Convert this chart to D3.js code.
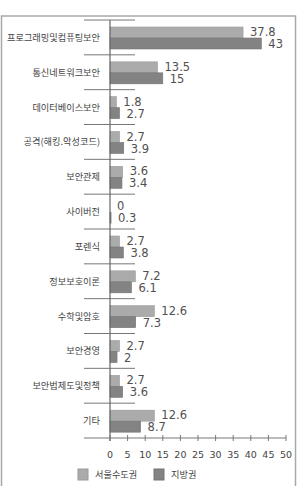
<!DOCTYPE html>
<html>
<head>
<meta charset="utf-8">
<script src="https://cdn.jsdelivr.net/npm/d3@7"></script>
<style>
  body { margin: 0; background: #fff; }
  svg { display: block; }
</style>
</head>
<body>
<svg id="chart" width="299" height="486"></svg>
<script>
// Values
const categories = ["프로그래밍및컴퓨팅보안", "통신네트워크보안", "데이터베이스보안", "공격(해킹.악성코드)",
  "보안관제", "사이버전", "포렌식", "정보보호이론", "수학및암호", "보안경영", "보안법제도및정책", "기타"];
const seoul = [37.8, 13.5, 1.8, 2.7, 3.6, 0, 2.7, 7.2, 12.6, 2.7, 2.7, 12.6];
const local = [43, 15, 2.7, 3.9, 3.4, 0.3, 3.8, 6.1, 7.3, 2, 3.6, 8.7];
const seriesNames = ["서울수도권", "지방권"];
const ticks = [0, 5, 10, 15, 20, 25, 30, 35, 40, 45, 50];

const colors = ["#ababab", "#838383"];
const strokes = ["#9a9a9a", "#747474"];

const svg = d3.select("#chart");

// outer frame
svg.append("rect")
  .attr("x", 1.5).attr("y", 16)
  .attr("width", 294).attr("height", 480)
  .attr("fill", "none").attr("stroke", "#a8a8a8").attr("stroke-width", 1.5);

const x = d3.scaleLinear().domain([0, 50]).range([110, 286]);
const y = d3.scaleBand().domain(categories).range([20, 438]);
const inner = d3.scaleBand().domain([0, 1]).range([7, 29]);

const rows = categories.map((c, i) => ({ name: c, values: [seoul[i], local[i]] }));

// separators between categories
svg.append("g").selectAll("line")
  .data(categories)
  .join("line")
  .attr("x1", 84).attr("x2", 135)
  .attr("y1", (d) => y(d)).attr("y2", (d) => y(d))
  .attr("stroke", "#777").attr("stroke-width", 1);

const row = svg.append("g").selectAll("g")
  .data(rows)
  .join("g")
  .attr("transform", (d) => `translate(0,${y(d.name)})`);

// category labels
row.append("text")
  .attr("x", 100)
  .attr("y", y.bandwidth() / 2 + 1)
  .attr("text-anchor", "end")
  .attr("dominant-baseline", "middle")
  .attr("font-family", "Noto Sans CJK KR")
  .attr("font-size", 9.2)
  .attr("fill", "#444")
  .text((d) => d.name);

// bars
row.selectAll("rect")
  .data((d) => d.values)
  .join("rect")
  .attr("x", x(0))
  .attr("y", (d, i) => inner(i))
  .attr("width", (d) => x(d) - x(0))
  .attr("height", inner.bandwidth())
  .attr("fill", (d, i) => colors[i])
  .attr("stroke", (d, i) => (d > 0 ? strokes[i] : "none"))
  .attr("stroke-width", 0.6);

// value labels
row.selectAll("text.val")
  .data((d) => d.values)
  .join("text")
  .attr("class", "val")
  .attr("x", (d) => x(d) + 7)
  .attr("y", (d, i) => inner(i) + inner.bandwidth() / 2 + (i === 0 ? 0 : 1))
  .attr("dominant-baseline", "middle")
  .attr("font-family", "DejaVu Sans")
  .attr("font-size", 11.5)
  .attr("fill", "#505050")
  .text((d) => d);

// vertical axis line
svg.append("line")
  .attr("x1", x(0)).attr("x2", x(0))
  .attr("y1", 20).attr("y2", 441)
  .attr("stroke", "#666").attr("stroke-width", 1.2);

// horizontal axis
svg.append("line")
  .attr("x1", 84).attr("x2", x(50))
  .attr("y1", 438).attr("y2", 438)
  .attr("stroke", "#777").attr("stroke-width", 1);

svg.append("g").selectAll("line")
  .data(ticks)
  .join("line")
  .attr("x1", (d) => x(d)).attr("x2", (d) => x(d))
  .attr("y1", 435).attr("y2", 441)
  .attr("stroke", "#777").attr("stroke-width", 1);

svg.append("g").selectAll("text")
  .data(ticks)
  .join("text")
  .attr("x", (d) => x(d))
  .attr("y", 455)
  .attr("text-anchor", "middle")
  .attr("dominant-baseline", "middle")
  .attr("font-family", "DejaVu Sans")
  .attr("font-size", 9.5)
  .attr("fill", "#444")
  .text((d) => d);

// legend
const legendX = [78, 154];
const legend = svg.append("g").selectAll("g")
  .data(seriesNames)
  .join("g")
  .attr("transform", (d, i) => `translate(${legendX[i]},469)`);

legend.append("rect")
  .attr("width", 10).attr("height", 11)
  .attr("fill", (d, i) => colors[i])
  .attr("stroke", (d, i) => strokes[i]);

legend.append("text")
  .attr("x", 17).attr("y", 6)
  .attr("dominant-baseline", "middle")
  .attr("font-family", "Noto Sans CJK KR")
  .attr("font-size", 9.2)
  .attr("fill", "#444")
  .text((d) => d);
</script>
</body>
</html>
